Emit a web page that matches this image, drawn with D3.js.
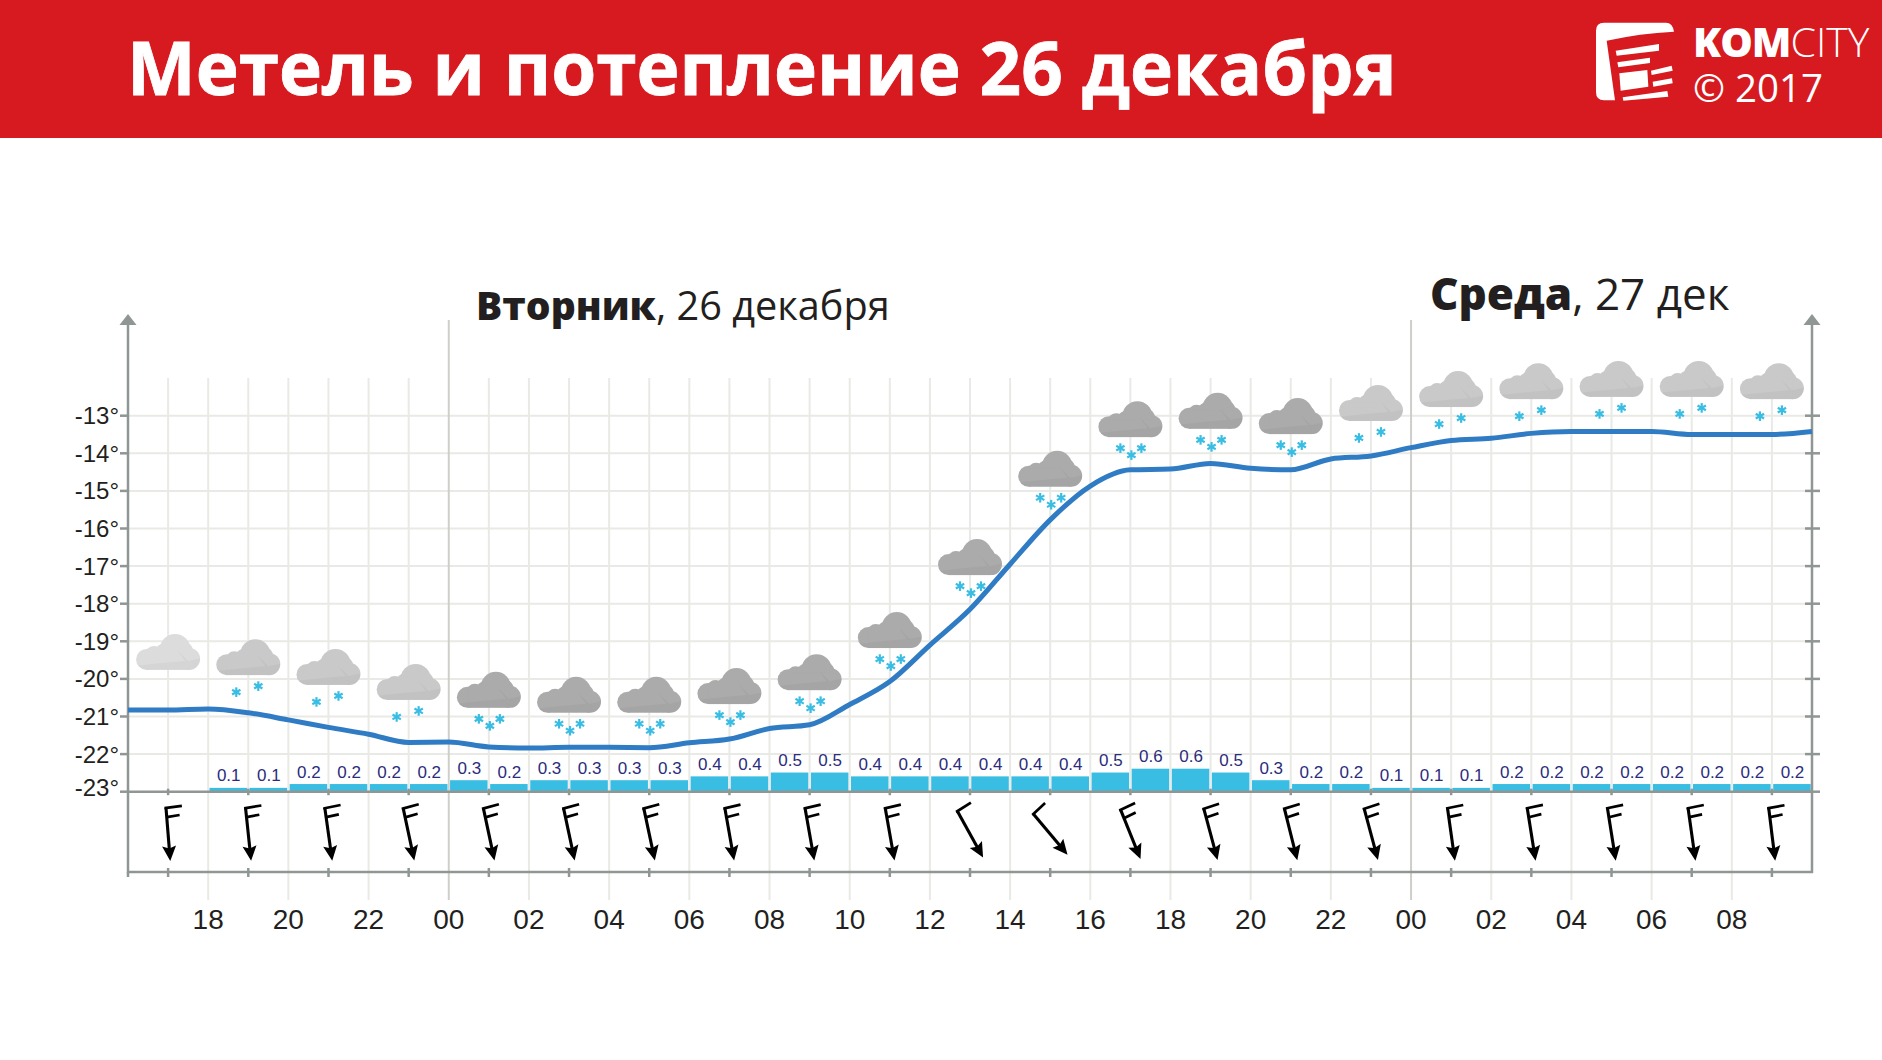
<!DOCTYPE html>
<html><head><meta charset="utf-8">
<script src="https://cdn.jsdelivr.net/npm/d3@7/dist/d3.min.js"></script>
<style>html,body{margin:0;padding:0;background:#fff}svg{display:block}</style>
</head><body><svg id="c" width="1882" height="1060"></svg>
<script>
const titleText = "Метель и потепление 26 декабря";
const hourRange = [16, 58];
const tempTicks = [-13,-14,-15,-16,-17,-18,-19,-20,-21,-22,-23];
const hours = d3.range(16, 59);
const temps = [-20.83,-20.83,-20.8,-20.9,-21.09,-21.29,-21.47,-21.69,-21.68,-21.81,-21.84,-21.82,-21.82,-21.83,-21.7,-21.6,-21.32,-21.22,-20.68,-20.07,-19.1,-18.15,-16.95,-15.77,-14.87,-14.44,-14.42,-14.27,-14.4,-14.44,-14.15,-14.07,-13.85,-13.66,-13.6,-13.47,-13.42,-13.42,-13.42,-13.5,-13.5,-13.5,-13.42];
const precipHours = d3.range(18, 58);
const precip = [.1,.1,.2,.2,.2,.2,.3,.2,.3,.3,.3,.3,.4,.4,.5,.5,.4,.4,.4,.4,.4,.4,.5,.6,.6,.5,.3,.2,.2,.1,.1,.1,.2,.2,.2,.2,.2,.2,.2,.2];
const iconHours = d3.range(17, 58, 2);
const cloudLevels = [-19.76,-19.9,-20.16,-20.56,-20.77,-20.9,-20.9,-20.67,-20.3,-19.18,-17.24,-14.89,-13.57,-13.35,-13.49,-13.14,-12.77,-12.56,-12.5,-12.5,-12.56];
const cloudCover = [0,1,1,1,2,2,2,2,2,2,2,2,2,2,2,1,1,1,1,1,1];
const snowFlakes = [0,2,2,2,3,3,3,3,3,3,3,3,3,3,3,2,2,2,2,2,2];
const windAngle = [-4.6,-6,-8,-12,-12,-12,-12,-10,-10,-10,-29,-40,-22,-15,-14,-15,-8,-9,-9,-8,-7];
const windBarbs = [2,2,2,2,2,2,2,2,2,2,1,1,2,2,2,2,2,2,2,2,2];
const xTickHours = d3.range(18, 58, 2);
const midnights = [24, 48];

const svg = d3.select("#c");
const x = d3.scaleLinear().domain(hourRange).range([128, 1812]);
const y = d3.scaleLinear().domain([-23, -13]).range([791.7, 415.7]);
const barH = d3.scaleLinear().domain([0, 0.6]).range([0, 23]);
const AX = "#8f9693", GRID = "#e9e9e5";
const sans = "'Liberation Sans',Arial,sans-serif", open = "'Open Sans',sans-serif";

// header
svg.append("rect").attr("width",1882).attr("height",138).attr("fill","#d71920");
svg.append("text").attr("x",127).attr("y",95).attr("font-family",open).attr("font-weight",700)
  .attr("font-size",72.8).attr("fill","#fff").attr("stroke","#fff").attr("stroke-width",.8).text(titleText);

// logo
const logo = svg.append("g").attr("transform","translate(1560,0) scale(.3333)").attr("fill","#fff");
logo.append("path").attr("d","M108,92Q108,68 132,68L318,68Q338,68 342,95Q240,100 140,122L165,301L132,301Q108,300 108,276Z");
["167,152 297,132 297,152 170,167","172,187 270,173 270,189 175,202","178,220 262,210 265,260 182,272","273,212 335,197 338,212 275,225","278,245 336,235 338,250 280,260","188,292 322,273 325,290 190,302"]
  .forEach(p=>logo.append("polygon").attr("points",p));
const brand = svg.append("text").attr("x",1693).attr("y",57).attr("font-family",open).attr("font-size",41).attr("fill","#fff");
brand.append("tspan").attr("font-weight",800).attr("letter-spacing",-1).text("KOM");
brand.append("tspan").attr("font-weight",300).text("CITY");
svg.append("text").attr("x",1693).attr("y",102).attr("font-family",open).attr("font-size",38.5).attr("fill","#fff").text("© 2017");

// day headings
function heading(px,py,fb,fr,b,r){
  const t=svg.append("text").attr("x",px).attr("y",py).attr("font-family",open).attr("fill","#231f20");
  t.append("tspan").attr("font-weight",800).attr("font-size",fb).text(b);
  t.append("tspan").attr("font-size",fr).text(r);
}
heading(476,320,39,39.7,"Вторник",", 26 декабря");
heading(1430,310,44,44,"Среда",", 27 дек");

// grid
const g = svg.append("g");
g.selectAll(".h").data(tempTicks.slice(0,-1)).join("line").attr("x1",x(16)).attr("x2",x(58))
  .attr("y1",d=>y(d)).attr("y2",d=>y(d)).attr("stroke",GRID).attr("stroke-width",2);
g.selectAll(".v").data(hours.filter(h=>h>16&&h<58&&!midnights.includes(h))).join("line")
  .attr("x1",d=>x(d)).attr("x2",d=>x(d)).attr("y1",378)
  .attr("y2",d=>d%2?y(-23):900).attr("stroke",GRID).attr("stroke-width",2);
g.selectAll(".m").data(midnights).join("line").attr("x1",d=>x(d)).attr("x2",d=>x(d)).attr("y1",320).attr("y2",900)
  .attr("stroke","#cfcfca").attr("stroke-width",2);

// precipitation bars
g.selectAll(".b").data(precip).join("rect")
  .attr("x",(d,i)=>x(precipHours[i])+1.3).attr("width",(d,i)=>x(precipHours[i]+1)-x(precipHours[i])-2.6)
  .attr("y",d=>y(-23)-barH(d)).attr("height",d=>barH(d)).attr("fill","#3abde3");
g.selectAll(".bl").data(precip).join("text")
  .attr("x",(d,i)=>x(precipHours[i]+.5)+.5).attr("y",d=>y(-23)-barH(d)-6.5).attr("text-anchor","middle")
  .attr("font-family",sans).attr("font-size",17).attr("fill","#2b2c7c").text(d=>d.toFixed(1));

// axes lines
const ax = svg.append("g").attr("stroke",AX).attr("stroke-width",2.5).attr("fill","none");
ax.append("line").attr("x1",x(16)).attr("x2",x(16)).attr("y1",324).attr("y2",873);
ax.append("line").attr("x1",x(58)).attr("x2",x(58)).attr("y1",324).attr("y2",873);
ax.append("line").attr("x1",x(16)-1).attr("x2",x(58)+1).attr("y1",y(-23)).attr("y2",y(-23));
ax.append("line").attr("x1",x(16)-1).attr("x2",x(58)+1).attr("y1",872).attr("y2",872);
[x(16),x(58)].forEach(px=>svg.append("path").attr("d",d3.line()([[px,314],[px-8.5,325],[px+8.5,325]])+"Z").attr("fill",AX));
// y ticks
ax.selectAll(".tl").data(tempTicks).join("line").attr("x1",x(16)-8).attr("x2",x(16)).attr("y1",d=>y(d)).attr("y2",d=>y(d));
ax.selectAll(".tr").data(tempTicks).join("line").attr("x1",x(58)-7).attr("x2",x(58)+8).attr("y1",d=>y(d)).attr("y2",d=>y(d));
// odd hour ticks on both baselines
ax.selectAll(".t1").data(iconHours).join("line").attr("x1",d=>x(d)).attr("x2",d=>x(d)).attr("y1",y(-23)-3).attr("y2",y(-23)+3.5);
ax.selectAll(".t2").data(iconHours).join("line").attr("x1",d=>x(d)).attr("x2",d=>x(d)).attr("y1",868).attr("y2",877);
ax.append("line").attr("x1",x(16)).attr("x2",x(16)).attr("y1",872).attr("y2",877);

// labels
svg.selectAll(".yl").data(tempTicks).join("text").attr("x",119).attr("text-anchor","end")
  .attr("y",d=>y(d)+(d===-23?4:8.5)).attr("font-family",sans).attr("font-size",24).attr("fill","#231f20").text(d=>d+"°");
svg.selectAll(".xl").data(xTickHours).join("text").attr("x",d=>x(d)).attr("y",929).attr("text-anchor","middle")
  .attr("font-family",sans).attr("font-size",28).attr("fill","#231f20").text(d=>d3.format("02")(d%24));

// temperature line
svg.append("path").datum(temps).attr("fill","none").attr("stroke","#2f7cc4").attr("stroke-width",5)
  .attr("d",d3.line().x((d,i)=>x(hours[i])).y(d=>y(d)).curve(d3.curveMonotoneX));

// clouds
const defs = svg.append("defs");
const cloudParts = [["circle",{cx:-21.5,cy:-10.5,r:10.5}],["circle",{cx:-14,cy:-15.5,r:8.5}],["circle",{cx:-3,cy:-17,r:10}],["circle",{cx:7,cy:-21,r:15}],["circle",{cx:14,cy:-18,r:11}],["circle",{cx:21,cy:-11,r:11}],["rect",{x:-21.5,y:-18,width:42.5,height:18}]];
const clip = defs.append("clipPath").attr("id","cloudClip");
cloudParts.forEach(([t,a])=>{const e=clip.append(t);Object.entries(a).forEach(([k,v])=>e.attr(k,v));});
const cloudFill = ["#dcdcdc","#c9c9c9","#ababab"];
const cloud = svg.selectAll(".cloud").data(iconHours).join("g")
  .attr("transform",(h,i)=>`translate(${x(h)},${y(cloudLevels[i])})`);
cloud.each(function(h,i){
  const c=d3.select(this);
  cloudParts.forEach(([t,a])=>{const e=c.append(t).attr("fill",cloudFill[cloudCover[i]]);Object.entries(a).forEach(([k,v])=>e.attr(k,v));});
  c.append("polygon").attr("points","9,-20 17,-9 -6,-7 -34,-4 -34,2 34,2 34,-12 20,-9")
   .attr("fill","#000").attr("opacity",.03).attr("clip-path","url(#cloudClip)");
  const pos = snowFlakes[i]===3 ? [[-10,11],[1,18],[11,11]] : snowFlakes[i]===2 ? [[-12,17],[10,11]] : [];
  pos.forEach(([dx,dy])=>{
    const f=c.append("g").attr("transform",`translate(${dx},${dy})`).attr("stroke","#3abde3").attr("stroke-width",2.2);
    [0,60,120].forEach(a=>f.append("line").attr("y1",-4.8).attr("y2",4.8).attr("transform",`rotate(${a})`));
  });
});

// wind arrows
const wind = svg.selectAll(".wind").data(iconHours).join("g")
  .attr("transform",(h,i)=>`translate(${x(h)},834) rotate(${windAngle[i]})`);
wind.each(function(h,i){
  const w=d3.select(this);
  w.append("line").attr("x1",0).attr("x2",0).attr("y1",-26.5).attr("y2",16).attr("stroke","#000").attr("stroke-width",3.1);
  w.append("path").attr("d","M0,27L-7,12L0,14.5L7,12Z").attr("fill","#000");
  w.append("line").attr("x1",-1.5).attr("y1",-26).attr("x2",16).attr("y2",-27).attr("stroke","#000").attr("stroke-width",2.7);
  if(windBarbs[i]>1) w.append("line").attr("x1",0).attr("y1",-17).attr("x2",13).attr("y2",-18).attr("stroke","#000").attr("stroke-width",2.7);
});
</script></body></html>
